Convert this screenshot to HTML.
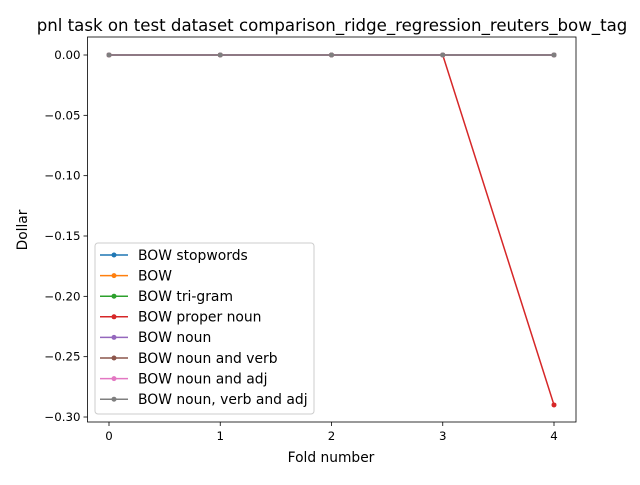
<!DOCTYPE html>
<html><head><meta charset="utf-8"><style>
body{margin:0;background:#fff}
svg text{font-family:"DejaVu Sans","Liberation Sans",sans-serif;fill:#000}
</style></head><body>
<svg id="c" width="640" height="480" xmlns="http://www.w3.org/2000/svg">
<rect width="640" height="480" fill="#fff"/>
<text x="332" y="31" font-size="16.6" text-anchor="middle">pnl task on test dataset comparison_ridge_regression_reuters_bow_tag</text>
<g id="ax"></g>
<text x="331" y="462" font-size="13.8" text-anchor="middle">Fold number</text>
<text transform="translate(27,230) rotate(-90)" font-size="13.8" text-anchor="middle">Dollar</text>
</svg>
<script>
const folds=[0,1,2,3,4];
const names=["BOW stopwords","BOW","BOW tri-gram","BOW proper noun","BOW noun","BOW noun and verb","BOW noun and adj","BOW noun, verb and adj"];
const colors=["#1f77b4","#ff7f0e","#2ca02c","#d62728","#9467bd","#8c564b","#e377c2","#7f7f7f"];
const s0=[0,0,0,0,0];
const s1=[0,0,0,0,0];
const s2=[0,0,0,0,0];
const s3=[0,0,0,0,-0.29];
const s4=[0,0,0,0,0];
const s5=[0,0,0,0,0];
const s6=[0,0,0,0,0];
const s7=[0,0,0,0,0];
const series=[s0,s1,s2,s3,s4,s5,s6,s7];
const xTicks=[0,1,2,3,4];
const yTicks=[0,-0.05,-0.10,-0.15,-0.20,-0.25,-0.30];
const yLabels=["0.00","\u22120.05","\u22120.10","\u22120.15","\u22120.20","\u22120.25","\u22120.30"];
const L=87.5,R=576,T=37,B=422;
const X=v=>109+v*111.25;
const Y=v=>55-v*1206.7;
const NS="http://www.w3.org/2000/svg";
const g=document.getElementById('ax');
function mk(t,a,p){const e=document.createElementNS(NS,t);for(const k in a)e.setAttribute(k,a[k]);(p||g).appendChild(e);return e;}
xTicks.forEach(v=>{
 const l=mk('line',{x1:X(v),x2:X(v),y1:B,y2:B+4,stroke:'#000','stroke-width':0.8});
 
 
 const t=mk('text',{x:X(v),y:B+18,'font-size':11.8,'text-anchor':'middle'});t.textContent=v;
 
 
});
yTicks.forEach((v,i)=>{
 const l=mk('line',{x1:L-4,x2:L,y1:Y(v),y2:Y(v),stroke:'#000','stroke-width':0.8});
 
 
 const t=mk('text',{x:L-7,y:Y(v)+4,'font-size':11.8,'text-anchor':'end'});t.textContent=yLabels[i];
 
 
});
series.forEach((s,i)=>{
 const pl=mk('polyline',{points:s.map((v,j)=>X(folds[j])+','+Y(v)).join(' '),fill:'none',stroke:colors[i],'stroke-width':1.5});
 
 
 s.forEach((v,j)=>{const c=mk('circle',{cx:X(folds[j]),cy:Y(v),r:2.5,fill:colors[i]});
  
  });
});
const fr=mk('rect',{x:L,y:T,width:R-L,height:B-T,fill:'none',stroke:'#000','stroke-width':0.8});


const lg=mk('g',{});


mk('rect',{x:95,y:243,width:219,height:171,rx:3,fill:'#fff','fill-opacity':0.8,stroke:'#ccc'},lg);
names.forEach((n,i)=>{
 const y=255+i*20.6;
 const e=mk('g',{},lg);
 
 
 mk('line',{x1:100,x2:128,y1:y,y2:y,stroke:colors[i],'stroke-width':1.5},e);
 mk('circle',{cx:114,cy:y,r:2.5,fill:colors[i]},e);
 const t=mk('text',{x:138,y:y+4.8,'font-size':13.9},e);t.textContent=n;
});
</script>
</body></html>
